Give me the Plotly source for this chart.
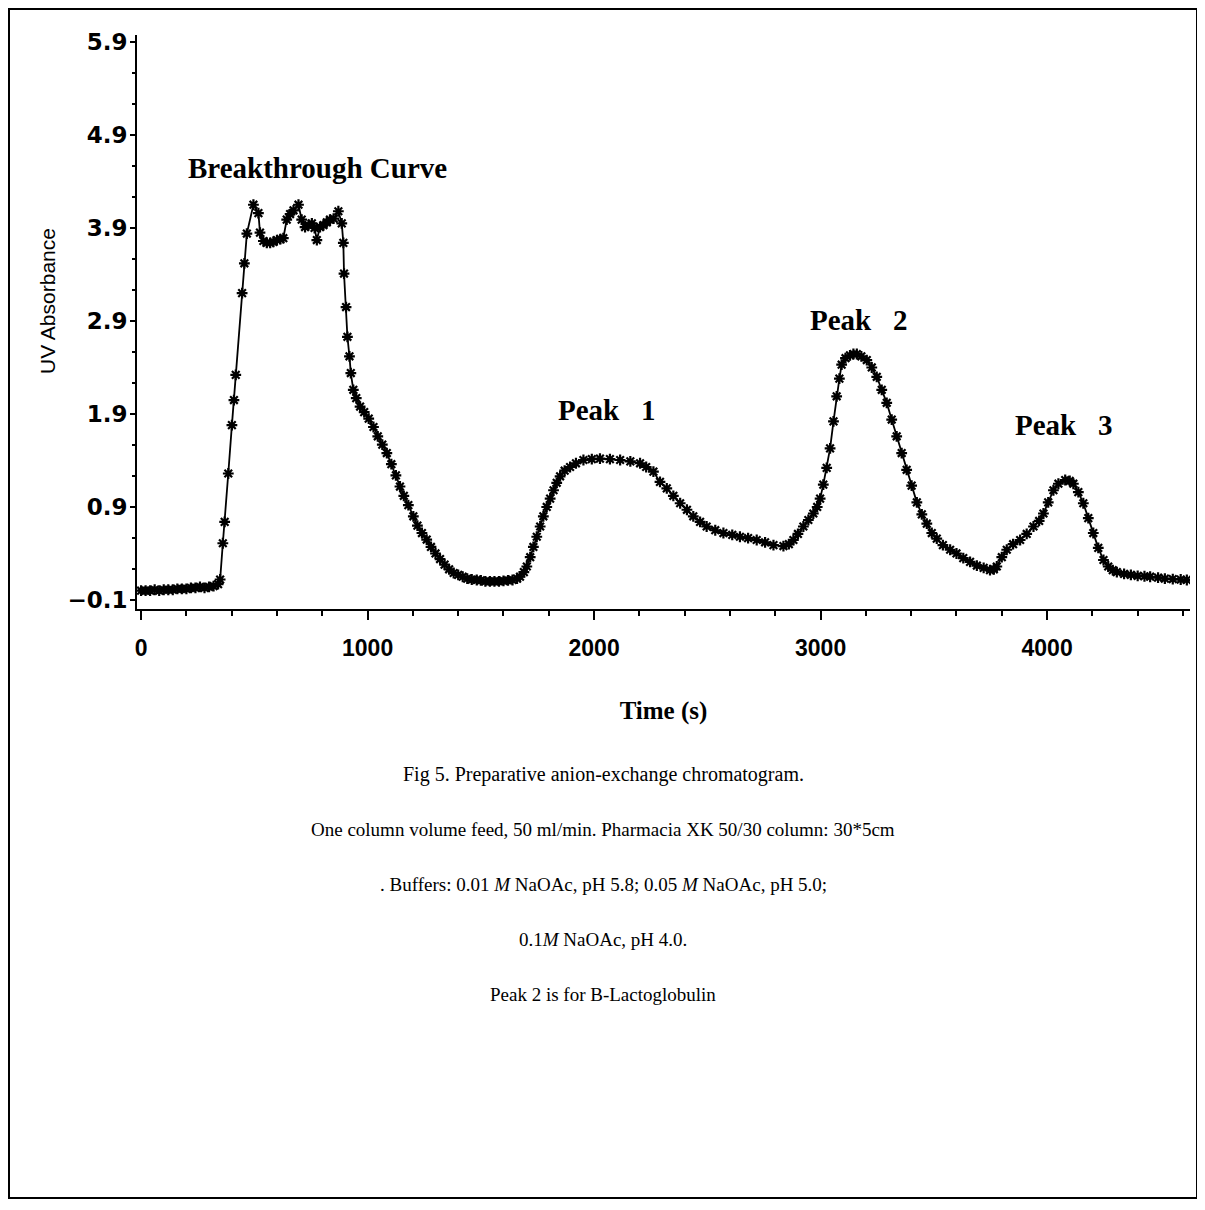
import plotly.graph_objects as go

# ---- data ----
time_s = [0, 20, 40, 60, 80, 100, 120, 140, 160, 180, 200, 220, 240, 260, 280, 300, 320, 340,
          349, 361, 369, 385, 401, 410, 418, 446, 456, 467, 496,
          518, 525, 540, 555, 570, 584, 600, 615, 628, 643, 658, 673, 695, 709, 724, 739, 754,
          766, 776, 790, 805, 820, 834, 850, 871, 886,
          893, 896, 905, 911, 920, 926, 937, 950, 967, 985, 1005, 1026, 1045, 1065, 1085, 1105,
          1125, 1143, 1160, 1180, 1202, 1220, 1240, 1261, 1280, 1300, 1320, 1340, 1360, 1380,
          1400, 1420, 1440, 1460, 1482, 1500, 1520, 1540, 1560, 1580, 1600, 1620, 1640, 1660,
          1673, 1690, 1703, 1718, 1732, 1747, 1762, 1776, 1791, 1806, 1821, 1835, 1850, 1870,
          1894, 1920, 1953, 1990, 2026, 2070, 2115, 2160, 2203, 2230, 2262, 2291, 2321, 2350,
          2380, 2410, 2438, 2468, 2497, 2535, 2571, 2610, 2644, 2680, 2718, 2755, 2792, 2836,
          2860, 2880, 2900, 2924, 2946, 2968, 2985, 2998, 3012, 3027, 3042, 3057, 3071, 3083,
          3093, 3110, 3130, 3145, 3160, 3180, 3204, 3226, 3248, 3270, 3292, 3314, 3336, 3358,
          3380, 3402, 3425, 3447, 3469, 3491, 3513, 3540, 3572, 3600, 3630, 3660, 3690, 3720,
          3748, 3765, 3778, 3800, 3822, 3850, 3881, 3910, 3940, 3965, 3984, 4005, 4028, 4050,
          4080, 4100, 4116, 4138, 4160, 4182, 4204, 4226, 4249, 4270, 4290, 4308, 4340, 4370,
          4400, 4430, 4455, 4490, 4520, 4555, 4590, 4617]

uv_abs = [0.00, 0.00, 0.00, 0.01, 0.00, 0.01, 0.01, 0.01, 0.02, 0.02, 0.02, 0.03, 0.03, 0.04, 0.03, 0.04, 0.05, 0.07,
          0.12, 0.51, 0.74, 1.26, 1.78, 2.05, 2.32, 3.20, 3.52, 3.84, 4.15,
          4.06, 3.85, 3.76, 3.74, 3.74, 3.75, 3.77, 3.78, 3.79, 3.99, 4.05, 4.09, 4.15, 3.99, 3.91, 3.93, 3.95,
          3.90, 3.77, 3.91, 3.93, 3.96, 3.99, 4.00, 4.08, 3.95,
          3.74, 3.41, 3.05, 2.73, 2.52, 2.34, 2.16, 2.07, 1.98, 1.92, 1.85, 1.76, 1.66, 1.57, 1.48, 1.36,
          1.24, 1.12, 1.02, 0.92, 0.80, 0.70, 0.62, 0.55, 0.47, 0.40, 0.34, 0.28, 0.23, 0.19,
          0.17, 0.15, 0.13, 0.12, 0.115, 0.11, 0.10, 0.10, 0.10, 0.10, 0.105, 0.11, 0.115, 0.13,
          0.15, 0.20, 0.26, 0.36, 0.47, 0.58, 0.69, 0.80, 0.90, 0.99, 1.08, 1.16, 1.23, 1.29,
          1.33, 1.37, 1.405, 1.415, 1.42, 1.415, 1.405, 1.39, 1.37, 1.33, 1.28, 1.17, 1.10, 1.02,
          0.94, 0.87, 0.80, 0.74, 0.69, 0.65, 0.62, 0.60, 0.58, 0.565, 0.545, 0.52, 0.49, 0.48,
          0.50, 0.545, 0.61, 0.69, 0.76, 0.83, 0.90, 0.99, 1.14, 1.32, 1.53, 1.82, 2.09, 2.28,
          2.43, 2.50, 2.53, 2.545, 2.545, 2.52, 2.48, 2.40, 2.30, 2.16, 2.02, 1.84, 1.66, 1.48,
          1.30, 1.13, 0.95, 0.82, 0.72, 0.62, 0.56, 0.49, 0.44, 0.40, 0.35, 0.31, 0.27, 0.245,
          0.22, 0.23, 0.26, 0.36, 0.44, 0.50, 0.545, 0.61, 0.69, 0.75, 0.83, 0.95, 1.08, 1.15,
          1.19, 1.18, 1.15, 1.06, 0.94, 0.78, 0.62, 0.46, 0.33, 0.26, 0.22, 0.20, 0.18, 0.17,
          0.16, 0.155, 0.15, 0.14, 0.13, 0.125, 0.12, 0.115]

x_tick_vals = [0, 1000, 2000, 3000, 4000]
x_tick_text = ["0", "1000", "2000", "3000", "4000"]
y_tick_vals = [-0.1, 0.9, 1.9, 2.9, 3.9, 4.9, 5.9]
y_tick_text = ["\u22120.1", "0.9", "1.9", "2.9", "3.9", "4.9", "5.9"]

peak_labels = ["Breakthrough Curve", "Peak\u00a0\u00a0\u00a01", "Peak\u00a0\u00a0\u00a02", "Peak\u00a0\u00a0\u00a03"]
peak_label_x = [781, 2057, 3166, 4071]
peak_label_y = [4.545, 1.94, 2.91, 1.78]

caption_lines = [
    "Fig 5. Preparative anion-exchange chromatogram.",
    "One column volume feed, 50 ml/min. Pharmacia XK 50/30 column: 30*5cm",
    ". Buffers: 0.01 <i>M</i> NaOAc, pH 5.8; 0.05 <i>M</i> NaOAc, pH 5.0;",
    "0.1<i>M</i> NaOAc, pH 4.0.",
    "Peak 2 is for B-Lactoglobulin",
]

# ---- layout geometry (page pixels; the page body adds an 8 px offset) ----
OFF = 8
W, H = 1197, 1202
L, R, T, B = 137 - OFF, 1190 - OFF, 35 - OFF, 609 - OFF
pw, ph = R - L, B - T


def py2paper(py):  # py in screen pixels
    return (B - (py - OFF)) / ph


def px2paper(px):  # px in screen pixels
    return ((px - OFF) - L) / pw


caption_py = [774, 829, 884, 939, 994]
caption_size = [20, 19, 19, 19, 19]

fig = go.Figure()
fig.add_trace(go.Scatter(
    x=time_s, y=uv_abs, mode="lines+markers",
    line=dict(color="black", width=1.8),
    marker=dict(symbol="asterisk-open", size=9, color="black",
                line=dict(color="black", width=2.2)),
    showlegend=False, hoverinfo="x+y",
))

annotations = []
for txt, xv, yv in zip(peak_labels, peak_label_x, peak_label_y):
    annotations.append(dict(
        x=xv, y=yv, xref="x", yref="y", text="<b>" + txt + "</b>", showarrow=False,
        font=dict(family="Liberation Serif, Times New Roman, serif", size=29, color="black"),
        xanchor="center", yanchor="middle",
    ))
for txt, py, fs in zip(caption_lines, caption_py, caption_size):
    annotations.append(dict(
        x=px2paper(603), y=py2paper(py), xref="paper", yref="paper", text=txt,
        showarrow=False, xanchor="center", yanchor="middle",
        font=dict(family="Liberation Serif, Times New Roman, serif", size=fs, color="black"),
    ))
# y-axis title
annotations.append(dict(
    x=px2paper(47), y=py2paper(301), xref="paper", yref="paper", text="UV Absorbance",
    showarrow=False, textangle=-90, xanchor="center", yanchor="middle",
    font=dict(family="Liberation Sans, Arial, sans-serif", size=21, color="black"),
))

fig.update_layout(
    width=W, height=H,
    margin=dict(l=L, r=W - R, t=T, b=H - B, pad=0),
    paper_bgcolor="white", plot_bgcolor="white",
    annotations=annotations,
    shapes=[dict(type="rect", xref="paper", yref="paper",
                 x0=px2paper(9), x1=px2paper(1197), y0=py2paper(1198), y1=py2paper(9),
                 line=dict(color="black", width=2), fillcolor="rgba(0,0,0,0)", layer="below")],
    xaxis=dict(
        range=[-18, 4631], showgrid=False, zeroline=False,
        showline=True, linecolor="black", linewidth=2, mirror=False,
        tickmode="array", tickvals=x_tick_vals, ticktext=x_tick_text,
        ticks="outside", ticklen=9, tickwidth=2, tickcolor="black",
        ticklabelstandoff=8,
        tickfont=dict(family="Liberation Sans, Arial, sans-serif", size=23, color="black", weight="bold"),
        minor=dict(tick0=0, dtick=200, ticks="outside", ticklen=5, tickwidth=1.5, tickcolor="black"),
        title=dict(text="<b>Time (s)</b>", standoff=42,
                   font=dict(family="Liberation Serif, Times New Roman, serif", size=25, color="black")),
    ),
    yaxis=dict(
        range=[-0.197, 5.975], showgrid=False, zeroline=False,
        showline=True, linecolor="black", linewidth=2, mirror=False,
        tickmode="array", tickvals=y_tick_vals, ticktext=y_tick_text,
        ticks="outside", ticklen=5, tickwidth=2, tickcolor="black",
        ticklabelstandoff=-2,
        tickfont=dict(family="DejaVu Sans, sans-serif", size=23, color="black", weight="bold"),
        minor=dict(tick0=-0.1, dtick=1 / 3, ticks="outside", ticklen=3, tickwidth=1.5, tickcolor="black"),
    ),
)

fig.write_html("out.html")
